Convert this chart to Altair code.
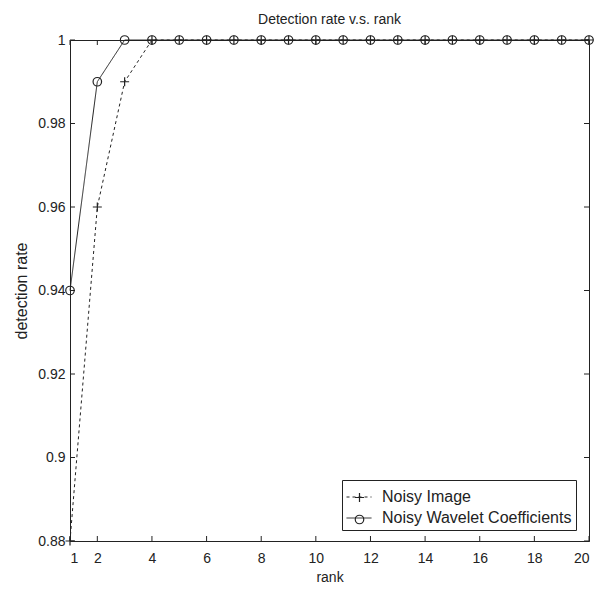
import altair as alt
import pandas as pd

rank = list(range(1, 21))
noisy_image = [0.88, 0.96, 0.99] + [1.0] * 17
noisy_wavelet = [0.94, 0.99, 1.0] + [1.0] * 17
series_names = ["Noisy Image", "Noisy Wavelet Coefficients"]
x_ticks = [1, 2, 4, 6, 8, 10, 12, 14, 16, 18, 20]
y_ticks = [0.88, 0.9, 0.92, 0.94, 0.96, 0.98, 1.0]

W, H = 519, 501
FONT = "Liberation Sans"
INK = "#222222"

df = pd.DataFrame({
    "rank": rank * 2,
    "rate": noisy_image + noisy_wavelet,
    "series": [series_names[0]] * 20 + [series_names[1]] * 20,
})
df["marker"] = df["series"]

xs = alt.Scale(domain=[1, 20], nice=False, zero=False)
ys = alt.Scale(domain=[0.88, 1.0], nice=False, zero=False)

# marker paths drawn small inside a large symbol box so legend rows line up
rp, rc = 0.36, 0.34
plus_path = f"M-{rp},0L{rp},0M0,-{rp}L0,{rp}"
circle_path = f"M{rc},0A{rc},{rc} 0 1,1 -{rc},0A{rc},{rc} 0 1,1 {rc},0Z"
SYM = 625

LX, LY = 272, 440
common_legend = dict(orient="none", title=None, labelFont=FONT, labelFontSize=16,
                     rowPadding=0, padding=4, labelLimit=400, labelOffset=10,
                     symbolSize=SYM)

base = alt.Chart(df)

lines = base.mark_line(color=INK, strokeWidth=1).encode(
    x=alt.X("rank:Q", scale=xs,
            axis=alt.Axis(values=x_ticks, title="rank", ticks=False, grid=False,
                          labelPadding=10, titlePadding=5)),
    y=alt.Y("rate:Q", scale=ys,
            axis=alt.Axis(values=y_ticks, title="detection rate", format="~g",
                          ticks=False, grid=False, labelPadding=5, titlePadding=8,
                          titleFontSize=16)),
    strokeDash=alt.StrokeDash("series:N",
                              scale=alt.Scale(range=[[3, 3], [1, 0]]),
                              legend=alt.Legend(legendX=LX, legendY=LY,
                                                symbolType="stroke",
                                                symbolStrokeColor=INK, symbolStrokeWidth=1,
                                                labelColor=INK, strokeColor=INK,
                                                **common_legend)),
)

points = base.mark_point(color=INK, filled=False, strokeWidth=1.2, size=SYM, opacity=1).encode(
    x=alt.X("rank:Q", scale=xs),
    y=alt.Y("rate:Q", scale=ys),
    shape=alt.Shape("marker:N",
                    scale=alt.Scale(range=[plus_path, circle_path]),
                    legend=alt.Legend(legendX=LX, legendY=LY,
                                      symbolStrokeColor=INK, symbolStrokeWidth=1.2,
                                      symbolFillColor="white",
                                      labelOpacity=0,
                                      **common_legend)),
)

xt = pd.DataFrame({"v": x_ticks})
yt = pd.DataFrame({"v": y_ticks})

tick_style = dict(color=INK, strokeWidth=1)
bt = alt.Chart(xt).mark_rule(**tick_style).encode(
    x=alt.X("v:Q", scale=xs), y=alt.value(H), y2=alt.value(H - 5))
tt = alt.Chart(xt).mark_rule(**tick_style).encode(
    x=alt.X("v:Q", scale=xs), y=alt.value(0), y2=alt.value(5))
lt = alt.Chart(yt).mark_rule(**tick_style).encode(
    y=alt.Y("v:Q", scale=ys), x=alt.value(0), x2=alt.value(5))
rt = alt.Chart(yt).mark_rule(**tick_style).encode(
    y=alt.Y("v:Q", scale=ys), x=alt.value(W), x2=alt.value(W - 5))

chart = alt.layer(bt, tt, lt, rt, lines, points).properties(
    width=W, height=H,
    padding={"left": 5, "top": 5, "right": 0, "bottom": 0},
    title=alt.TitleParams("Detection rate v.s. rank", fontSize=14, font=FONT,
                          fontWeight="normal", color=INK, offset=6),
).configure_view(
    stroke=INK, strokeWidth=1
).configure_axis(
    labelFont=FONT, titleFont=FONT, labelFontSize=14, titleFontSize=14,
    titleFontWeight="normal", labelColor=INK, titleColor=INK,
    domainColor=INK, domainWidth=1,
)

chart.save("out.html", embed_options={"renderer": "svg", "actions": False})
